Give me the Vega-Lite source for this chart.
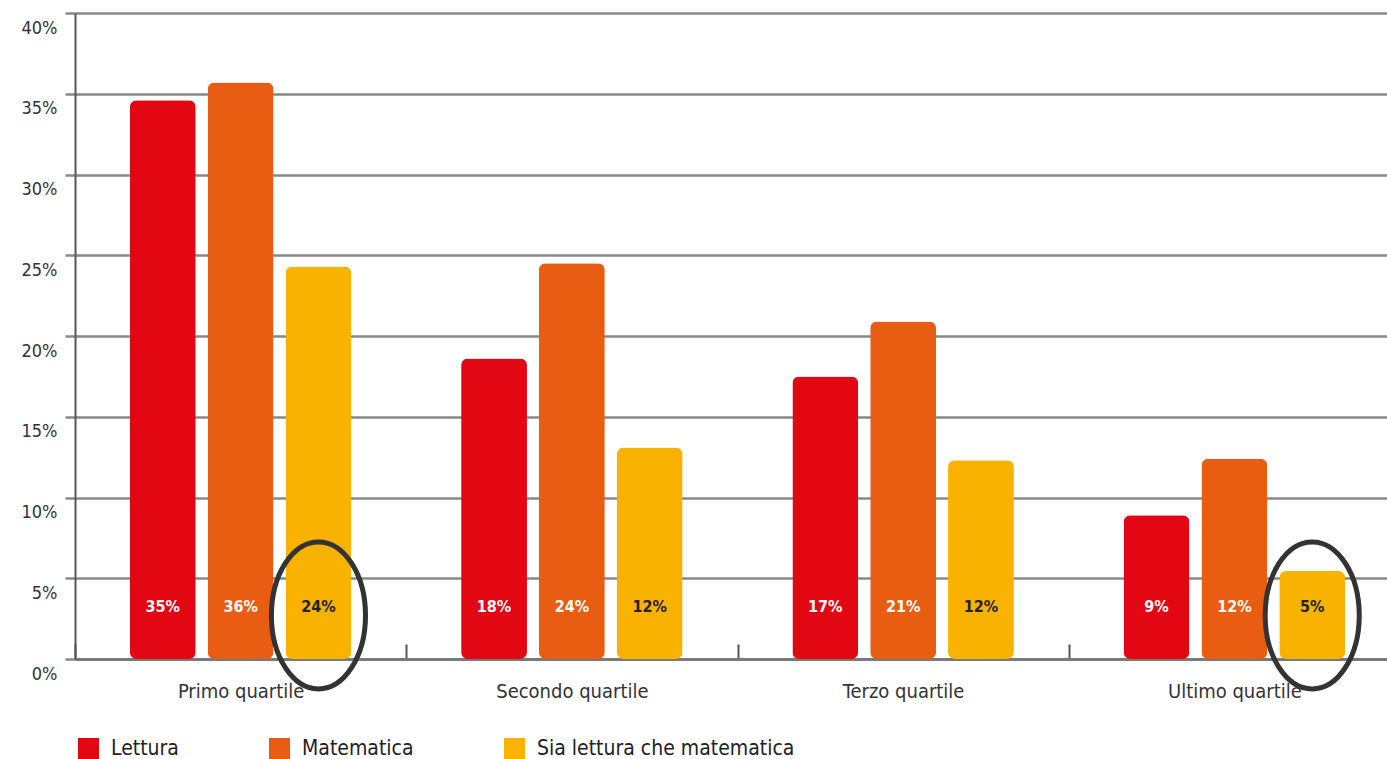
{
  "$schema": "https://vega.github.io/schema/vega-lite/v6.json",
  "autosize": {"type": "none"},
  "padding": {"left": 75, "top": 13, "right": 0, "bottom": 100},
  "width": 1312,
  "height": 646,
  "background": "white",
  "config": {
    "view": {"stroke": null},
    "font": "DejaVu Sans Condensed, sans-serif"
  },
  "data": {
    "values": [
      {"quartile": "Primo quartile", "series": "Lettura", "value": 34.6, "label": "35%", "highlight": false},
      {"quartile": "Primo quartile", "series": "Matematica", "value": 35.7, "label": "36%", "highlight": false},
      {"quartile": "Primo quartile", "series": "Sia lettura che matematica", "value": 24.3, "label": "24%", "highlight": true},
      {"quartile": "Secondo quartile", "series": "Lettura", "value": 18.6, "label": "18%", "highlight": false},
      {"quartile": "Secondo quartile", "series": "Matematica", "value": 24.5, "label": "24%", "highlight": false},
      {"quartile": "Secondo quartile", "series": "Sia lettura che matematica", "value": 13.1, "label": "12%", "highlight": false},
      {"quartile": "Terzo quartile", "series": "Lettura", "value": 17.5, "label": "17%", "highlight": false},
      {"quartile": "Terzo quartile", "series": "Matematica", "value": 20.9, "label": "21%", "highlight": false},
      {"quartile": "Terzo quartile", "series": "Sia lettura che matematica", "value": 12.3, "label": "12%", "highlight": false},
      {"quartile": "Ultimo quartile", "series": "Lettura", "value": 8.9, "label": "9%", "highlight": false},
      {"quartile": "Ultimo quartile", "series": "Matematica", "value": 12.4, "label": "12%", "highlight": false},
      {"quartile": "Ultimo quartile", "series": "Sia lettura che matematica", "value": 5.45, "label": "5%", "highlight": true}
    ]
  },
  "encoding": {
    "x": {
      "field": "quartile",
      "type": "nominal",
      "sort": ["Primo quartile", "Secondo quartile", "Terzo quartile", "Ultimo quartile"],
      "scale": {"range": [0, 1325], "paddingInner": 0, "paddingOuter": 0},
      "axis": {
        "title": null,
        "labelAngle": 0,
        "labelFontSize": 20,
        "labelColor": "#333",
        "labelBaseline": "top",
        "tickBand": "extent",
        "tickSize": -15,
        "tickColor": "#555",
        "tickWidth": 2,
        "labelPadding": 37,
        "domainColor": "#7a7a7a",
        "domainWidth": 3
      }
    },
    "xOffset": {
      "field": "series",
      "type": "nominal",
      "sort": ["Lettura", "Matematica", "Sia lettura che matematica"],
      "scale": {"paddingInner": 0.154, "paddingOuter": 0.705}
    }
  },
  "layer": [
    {
      "mark": {"type": "bar", "cornerRadius": 7},
      "encoding": {
        "y": {
          "field": "value",
          "type": "quantitative",
          "scale": {"domain": [0, 40], "nice": false},
          "axis": {
            "title": null,
            "values": [0, 5, 10, 15, 20, 25, 30, 35, 40],
            "labelExpr": "datum.value + '%'",
            "grid": true,
            "gridColor": "#888",
            "gridWidth": 2.5,
            "tickColor": "#888",
            "tickWidth": 2.5,
            "tickSize": 10,
            "domainColor": "#555",
            "domainWidth": 2,
            "labelPadding": 8,
            "labelOffset": 15,
            "labelFontSize": 18,
            "labelColor": "#333"
          }
        },
        "color": {
          "field": "series",
          "type": "nominal",
          "scale": {
            "domain": ["Lettura", "Matematica", "Sia lettura che matematica"],
            "range": ["#e30613", "#e95d12", "#f9b200"]
          },
          "legend": {
            "orient": "none",
            "legendX": 3,
            "legendY": 725,
            "direction": "horizontal",
            "title": null,
            "symbolType": "square",
            "symbolSize": 440,
            "symbolStrokeWidth": 0,
            "labelFontSize": 21,
            "labelOffset": 12,
            "labelLimit": 500,
            "labelColor": "#222",
            "columnPadding": 90
          }
        }
      }
    },
    {
      "mark": {"type": "text", "fontSize": 16, "fontWeight": "bold", "font": "DejaVu Sans Condensed", "baseline": "middle"},
      "encoding": {
        "y": {"datum": 3.2},
        "text": {"field": "label"},
        "color": {
          "condition": {"test": "datum.series === 'Sia lettura che matematica'", "value": "#222"},
          "value": "white"
        }
      }
    },
    {
      "transform": [{"filter": "datum.highlight"}],
      "mark": {
        "type": "point",
        "shape": "M0,-1C0.3535,-1,0.64,-0.5523,0.64,0C0.64,0.5523,0.3535,1,0,1C-0.3535,1,-0.64,0.5523,-0.64,0C-0.64,-0.5523,-0.3535,-1,0,-1Z",
        "size": 21609,
        "filled": false,
        "stroke": "#333",
        "strokeWidth": 5,
        "opacity": 1
      },
      "encoding": {
        "y": {"datum": 2.7}
      }
    }
  ]
}
